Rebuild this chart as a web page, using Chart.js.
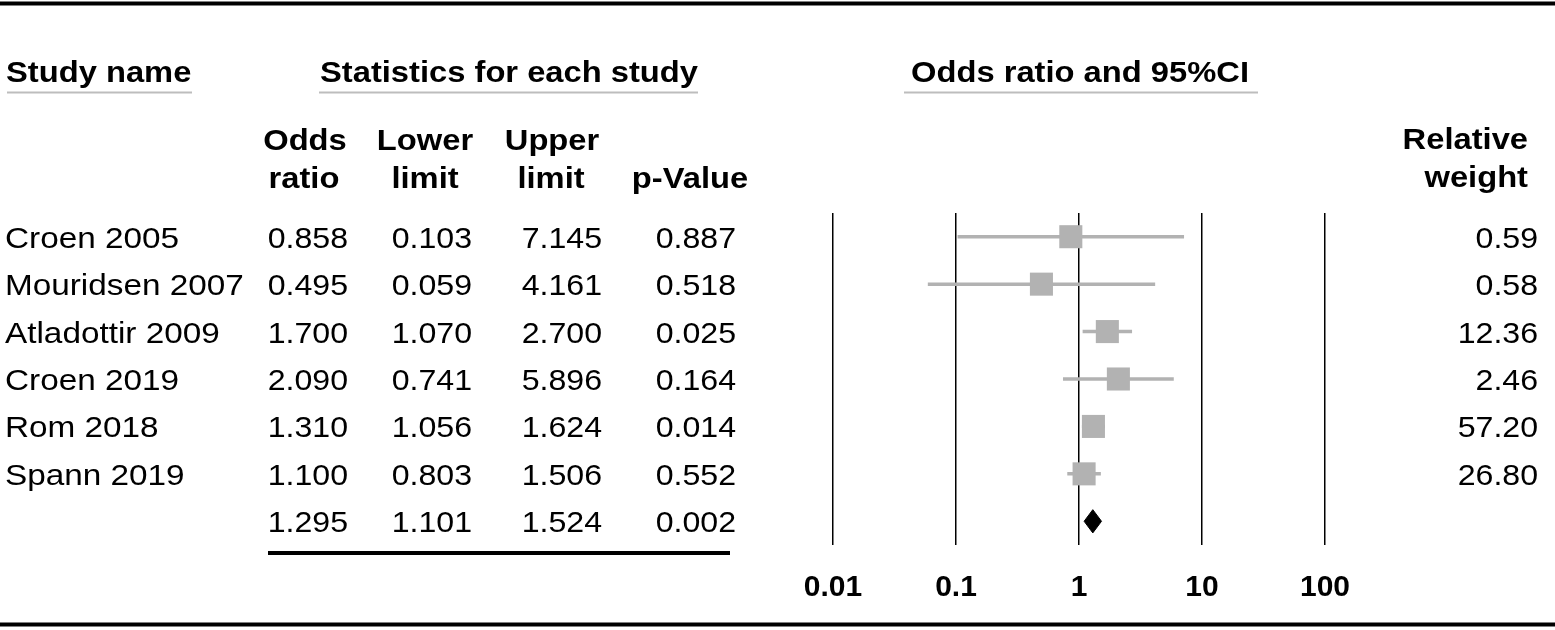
<!DOCTYPE html>
<html>
<head>
<meta charset="utf-8">
<script src="https://cdn.jsdelivr.net/npm/chart.js@4.4.1/dist/chart.umd.min.js"></script>
<style>
    html, body { margin: 0; padding: 0; background: #fff; }
    #wrap { position: relative; width: 1555px; height: 630px; }
</style>
</head>
<body>
<div id="wrap"><canvas id="forest"></canvas></div>
<script>
const studies = ['Croen 2005', 'Mouridsen 2007', 'Atladottir 2009', 'Croen 2019', 'Rom 2018', 'Spann 2019'];
const oddsRatio = [0.858, 0.495, 1.700, 2.090, 1.310, 1.100];
const lowerLimit = [0.103, 0.059, 1.070, 0.741, 1.056, 0.803];
const upperLimit = [7.145, 4.161, 2.700, 5.896, 1.624, 1.506];
const pValue = [0.887, 0.518, 0.025, 0.164, 0.014, 0.552];
const relWeight = [0.59, 0.58, 12.36, 2.46, 57.20, 26.80];

const summaryOR = 1.295;
const summaryLower = 1.101;
const summaryUpper = 1.524;
const summaryP = 0.002;

const tickValues = [0.01, 0.1, 1, 10, 100];
const tickLabels = ['0.01', '0.1', '1', '10', '100'];

const GREY = '#b2b2b2';
const FONT = '"Liberation Sans", Arial, sans-serif';
const summaryRow = studies.length;
const DIAMOND_HALF = 0.245; // half height of the diamond, in row units

Chart.defaults.font.family = FONT;
Chart.defaults.color = '#000';

function buildDatasets() {
    const datasets = [];

    // squares first so they sit on top of the whiskers
    datasets.push({
        type: 'scatter',
        data: oddsRatio.map((v, i) => ({ x: v, y: i })),
        pointStyle: 'rect',
        pointRadius: 16.3,
        pointHoverRadius: 16.3,
        backgroundColor: GREY,
        borderWidth: 0
    });

    datasets.push({
        type: 'line',
        data: [
            { x: summaryLower, y: summaryRow },
            { x: summaryOR, y: summaryRow - DIAMOND_HALF },
            { x: summaryUpper, y: summaryRow },
            { x: summaryOR, y: summaryRow + DIAMOND_HALF },
            { x: summaryLower, y: summaryRow }
        ],
        borderColor: '#000',
        backgroundColor: '#000',
        borderWidth: 1,
        fill: 'shape',
        pointRadius: 0,
        tension: 0
    });

    studies.forEach((name, i) => {
        datasets.push({
            type: 'line',
            label: name,
            data: [{ x: lowerLimit[i], y: i }, { x: upperLimit[i], y: i }],
            borderColor: GREY,
            borderWidth: 3.5,
            pointRadius: 0,
            fill: false
        });
    });

    return datasets;
}

// the source figure's lettering is a little stretched sideways
function drawText(ctx, str, x, y, align, font, sx) {
    ctx.save();
    ctx.font = font;
    ctx.textAlign = align;
    ctx.textBaseline = 'alphabetic';
    ctx.fillStyle = '#000';
    ctx.translate(x, y);
    ctx.scale(sx, 1);
    ctx.fillText(str, 0, 0);
    ctx.restore();
}

function hline(ctx, x1, x2, y, width, color) {
    ctx.beginPath();
    ctx.moveTo(x1, y);
    ctx.lineTo(x2, y);
    ctx.lineWidth = width;
    ctx.strokeStyle = color;
    ctx.stroke();
}

const tablePlugin = {
    id: 'forestTable',
    afterDraw(chart) {
        const ctx = chart.ctx;
        const yScale = chart.scales.y;
        const bold = 'bold 30px ' + FONT;
        const normal = '30px ' + FONT;
        const HB = 1.09, LB = 1.11, NB = 1.07;
        ctx.save();

        // rules
        hline(ctx, 0, 1555, 3.5, 4, '#000');
        hline(ctx, 0, 1555, 624.5, 4, '#000');
        hline(ctx, 268, 730, 553, 4, '#000');
        hline(ctx, 7, 192, 92.5, 2, '#bdbdbd');
        hline(ctx, 319, 698, 92.5, 2, '#bdbdbd');
        hline(ctx, 904, 1258, 92.5, 2, '#bdbdbd');

        // headers
        drawText(ctx, 'Study name', 6, 82, 'left', bold, HB);
        drawText(ctx, 'Statistics for each study', 509, 82, 'center', bold, HB);
        drawText(ctx, 'Odds ratio and 95%CI', 1080, 82, 'center', bold, HB);
        drawText(ctx, 'Odds', 305, 150, 'center', bold, HB);
        drawText(ctx, 'ratio', 304, 188, 'center', bold, HB);
        drawText(ctx, 'Lower', 425, 150, 'center', bold, HB);
        drawText(ctx, 'limit', 425, 188, 'center', bold, HB);
        drawText(ctx, 'Upper', 552, 150, 'center', bold, HB);
        drawText(ctx, 'limit', 551, 188, 'center', bold, HB);
        drawText(ctx, 'p-Value', 690, 188, 'center', bold, HB);
        drawText(ctx, 'Relative', 1528, 149, 'right', bold, HB);
        drawText(ctx, 'weight', 1528, 187, 'right', bold, HB);

        // rows
        studies.forEach((name, i) => {
            const base = yScale.getPixelForValue(i) + 11;
            drawText(ctx, name, 5, base, 'left', normal, LB);
            drawText(ctx, oddsRatio[i].toFixed(3), 348, base, 'right', normal, NB);
            drawText(ctx, lowerLimit[i].toFixed(3), 472, base, 'right', normal, NB);
            drawText(ctx, upperLimit[i].toFixed(3), 602, base, 'right', normal, NB);
            drawText(ctx, pValue[i].toFixed(3), 736, base, 'right', normal, NB);
            drawText(ctx, relWeight[i].toFixed(2), 1538, base, 'right', normal, NB);
        });

        const sBase = yScale.getPixelForValue(summaryRow) + 11;
        drawText(ctx, summaryOR.toFixed(3), 348, sBase, 'right', normal, NB);
        drawText(ctx, summaryLower.toFixed(3), 472, sBase, 'right', normal, NB);
        drawText(ctx, summaryUpper.toFixed(3), 602, sBase, 'right', normal, NB);
        drawText(ctx, summaryP.toFixed(3), 736, sBase, 'right', normal, NB);

        ctx.restore();
    }
};

new Chart(document.getElementById('forest'), {
    type: 'scatter',
    data: { datasets: buildDatasets() },
    options: {
        responsive: true,
        maintainAspectRatio: false,
        animation: false,
        events: [],
        layout: {
            padding: { left: 833, right: 230, top: 213, bottom: 0 }
        },
        plugins: {
            legend: { display: false },
            tooltip: { enabled: false }
        },
        scales: {
            x: {
                type: 'logarithmic',
                min: 0.01,
                max: 100,
                afterBuildTicks: scale => {
                    scale.ticks = tickValues.map(v => ({ value: v }));
                },
                afterFit: scale => {
                    scale.height = 85;
                },
                ticks: {
                    autoSkip: false,
                    maxRotation: 0,
                    padding: 25,
                    color: '#000',
                    font: { size: 30, weight: 'bold' },
                    callback: v => tickLabels[tickValues.indexOf(v)]
                },
                grid: {
                    color: '#000',
                    lineWidth: 1.5,
                    drawTicks: false
                },
                border: { display: false }
            },
            y: {
                type: 'linear',
                min: -0.5,
                max: 6.5,
                reverse: true,
                display: false
            }
        }
    },
    plugins: [tablePlugin]
});
</script>
</body>
</html>
